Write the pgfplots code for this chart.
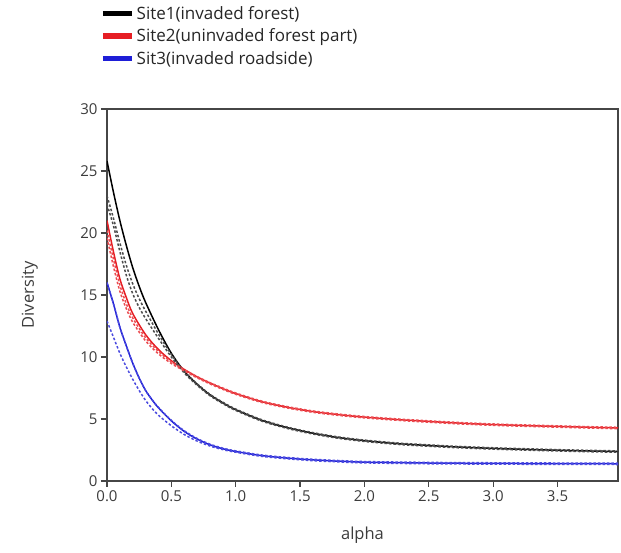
\documentclass[border=0pt]{standalone}
\usepackage{pgfplots}
\pgfplotsset{compat=1.18}
\usepackage{pgfplotstable}
\usepackage{fontspec}
\setmainfont{Open Sans}

\definecolor{sitered}{RGB}{230,30,36}
\definecolor{siteblue}{RGB}{30,30,215}
\definecolor{axisgray}{RGB}{70,70,70}
\definecolor{labelgray}{RGB}{60,60,60}

% alpha, observed profile, two bootstrap bounds
\pgfplotstableread{
a     s      lo     hi
0     25.8   22.3   23.0
0.05  23.3   20.6   21.2
0.1   21.0   18.5   19.2
0.15  19.0   16.6   17.4
0.2   17.2   15.1   15.9
0.25  15.7   14.0   14.7
0.3   14.4   13.1   13.7
0.4   12.2   11.5   11.85
0.5   10.3   10.0   10.2
0.6   8.85   8.72   8.85
0.7   7.8    7.72   7.84
0.8   6.95   6.88   6.99
0.9   6.3    6.24   6.35
1.0   5.75   5.69   5.80
1.2   4.9    4.84   4.95
1.4   4.3    4.24   4.35
1.6   3.85   3.79   3.90
1.8   3.5    3.44   3.55
2.0   3.25   3.19   3.30
2.25  3.02   2.96   3.07
2.5   2.86   2.80   2.91
2.75  2.73   2.67   2.78
3.0   2.63   2.57   2.68
3.25  2.55   2.49   2.60
3.5   2.48   2.42   2.53
3.75  2.42   2.36   2.47
3.97  2.38   2.32   2.43
}\siteone

\pgfplotstableread{
a     s      lo     hi
0     21.0   19.6   20.2
0.05  18.5   17.3   17.9
0.1   16.3   15.3   15.8
0.15  14.8   13.9   14.3
0.2   13.5   12.8   13.15
0.3   11.8   11.3   11.55
0.4   10.6   10.25  10.45
0.5   9.7    9.48   9.6
0.6   9.0    8.88   8.98
0.7   8.4    8.32   8.42
0.8   7.9    7.83   7.93
0.9   7.45   7.39   7.50
1.0   7.05   6.99   7.10
1.2   6.4    6.34   6.45
1.4   5.95   5.89   6.00
1.6   5.6    5.54   5.65
1.8   5.35   5.29   5.40
2.0   5.15   5.09   5.20
2.25  4.96   4.90   5.01
2.5   4.8    4.74   4.85
2.75  4.66   4.60   4.71
3.0   4.55   4.49   4.60
3.25  4.47   4.41   4.52
3.5   4.4    4.34   4.45
3.75  4.33   4.27   4.38
3.97  4.28   4.22   4.33
}\sitetwo

\pgfplotstableread{
a     s      lo     hi
0     16.0   12.9   16.0
0.05  14.3   11.6   14.3
0.1   12.4   10.3   12.4
0.15  10.9   9.2    10.9
0.2   9.5    8.2    9.5
0.25  8.3    7.3    8.3
0.3   7.3    6.5    7.3
0.35  6.55   5.85   6.57
0.4   5.9    5.3    5.93
0.5   4.85   4.45   4.89
0.6   4.0    3.75   4.05
0.7   3.38   3.22   3.43
0.8   2.92   2.82   2.97
0.9   2.6    2.53   2.65
1.0   2.38   2.32   2.43
1.2   2.05   1.99   2.10
1.4   1.85   1.79   1.90
1.6   1.7    1.64   1.75
1.8   1.6    1.54   1.65
2.0   1.52   1.46   1.57
2.5   1.45   1.39   1.50
3.0   1.42   1.36   1.47
3.5   1.40   1.34   1.45
3.97  1.39   1.33   1.44
}\sitethree

\begin{document}
\begin{tikzpicture}[x=1pt,y=1pt]
\begin{axis}[
    at={(0,0)}, anchor=south west,
    scale only axis,
    width=511pt, height=372pt,
    xmin=0, xmax=3.97,
    ymin=0, ymax=30,
    xtick={0,0.5,...,3.5},
    ytick={0,5,...,30},
    xticklabel style={/pgf/number format/fixed, /pgf/number format/fixed zerofill, /pgf/number format/precision=1},
    /pgf/number format/assume math mode=true,
    tick align=outside,
    xtick pos=left, ytick pos=left,
    major tick length=6pt,
    tick style={axisgray, line width=1.2pt},
    axis line style={axisgray, line width=1.2pt},
    tick label style={font=\fontsize{15}{17}\selectfont, text=labelgray},
    label style={font=\fontsize{16.5}{19}\selectfont, text=labelgray},
    xlabel={alpha},
    ylabel={Diversity},
    xlabel style={at={(axis description cs:0.5,-0.145)}, anchor=center},
    ylabel style={at={(axis description cs:-0.151,0.5)}, anchor=center},
    legend style={at={(rel axis cs:0,1)}, anchor=north west, xshift=-7pt, yshift=105pt,
        draw=none, fill=none, inner sep=0pt,
        font=\fontsize{17}{20}\selectfont, text=black!85,
        row sep=4pt, cells={anchor=west}},
    legend cell align=left,
    legend image code/.code={\draw[line width=5.5pt] (0pt,0pt) -- (29pt,0pt);},
    every axis plot/.append style={line width=1.5pt},
]
\addplot[black, smooth, tension=0.5] table[x=a, y=s] {\siteone};
\addlegendentry{Site1(invaded forest)}
\addplot[sitered, smooth, tension=0.5] table[x=a, y=s] {\sitetwo};
\addlegendentry{Site2(uninvaded forest part)}
\addplot[siteblue, smooth, tension=0.5] table[x=a, y=s] {\sitethree};
\addlegendentry{Sit3(invaded roadside)}

\addplot[black!70, dash pattern=on 2.5pt off 2pt, smooth, tension=0.5, forget plot] table[x=a, y=lo] {\siteone};
\addplot[black!70, dash pattern=on 2.5pt off 2pt, smooth, tension=0.5, forget plot] table[x=a, y=hi] {\siteone};
\addplot[sitered!80, dash pattern=on 2.5pt off 2pt, smooth, tension=0.5, forget plot] table[x=a, y=lo] {\sitetwo};
\addplot[sitered!80, dash pattern=on 2.5pt off 2pt, smooth, tension=0.5, forget plot] table[x=a, y=hi] {\sitetwo};
\addplot[siteblue!80, dash pattern=on 2.5pt off 2pt, smooth, tension=0.5, forget plot] table[x=a, y=lo] {\sitethree};
\addplot[siteblue!80, dash pattern=on 2.5pt off 2pt, smooth, tension=0.5, forget plot] table[x=a, y=hi] {\sitethree};
\end{axis}
\pgfresetboundingbox
\path (-107,-72) rectangle (514,481);
\end{tikzpicture}
\end{document}
